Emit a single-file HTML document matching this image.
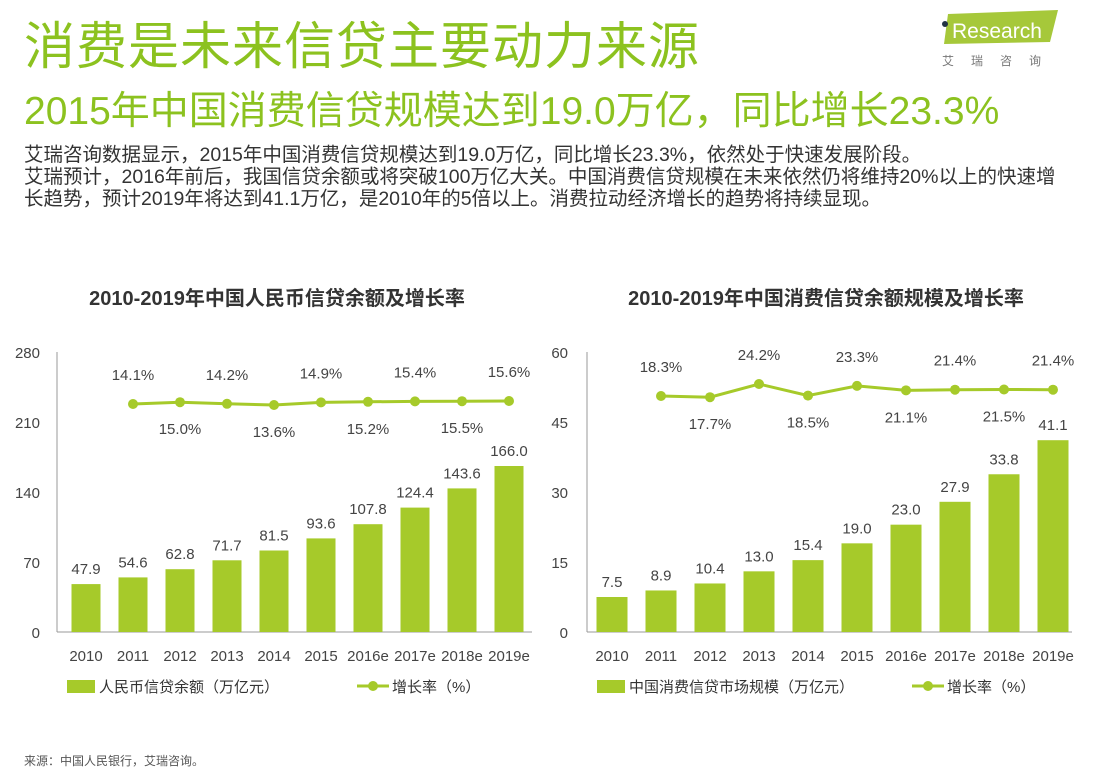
<!DOCTYPE html>
<html><head><meta charset="utf-8"><style>
body{margin:0;background:#fff;width:1103px;height:784px;overflow:hidden;font-family:"Liberation Sans","Noto Sans CJK SC",sans-serif;position:relative}
.a{position:absolute;white-space:nowrap}
</style></head><body>
<div class="a" style="left:24px;top:5px;font-size:51px;color:#8cc21f;letter-spacing:1px">消费是未来信贷主要动力来源</div>
<div class="a" style="left:24px;top:80px;font-size:39px;color:#8cc21f">2015年中国消费信贷规模达到19.0万亿，同比增长23.3%</div>
<div class="a" style="left:940px;top:8px;width:120px;height:60px">
<svg width="120" height="60"><polygon points="8,6 118,2 110,34 4,36" fill="#a6c83a"/><circle cx="5" cy="16" r="3" fill="#234"/><text x="12" y="30" font-size="21" fill="#fff" font-family="Liberation Sans">Research</text></svg>
<div class="a" style="left:2px;top:44px;font-size:12px;color:#777;letter-spacing:17px">艾瑞咨询</div></div>
<div class="a" style="left:24px;top:144px;font-size:19.5px;line-height:22px;color:#333">艾瑞咨询数据显示，2015年中国消费信贷规模达到19.0万亿，同比增长23.3%，依然处于快速发展阶段。<br>艾瑞预计，2016年前后，我国信贷余额或将突破100万亿大关。中国消费信贷规模在未来依然仍将维持20%以上的快速增<br>长趋势，预计2019年将达到41.1万亿，是2010年的5倍以上。消费拉动经济增长的趋势将持续显现。</div>
<div class="a" style="left:24px;top:752px;font-size:12px;color:#555">来源：中国人民银行，艾瑞咨询。</div>
<svg id="c" class="a" style="left:0;top:0" width="1103" height="784" font-family="Liberation Sans,Noto Sans CJK SC,sans-serif"></svg>
<script>
const years=["2010","2011","2012","2013","2014","2015","2016e","2017e","2018e","2019e"];
const creditVals=[47.9,54.6,62.8,71.7,81.5,93.6,107.8,124.4,143.6,166.0];
const creditGrowth=[14.1,15.0,14.2,13.6,14.9,15.2,15.4,15.5,15.6];
const consVals=[7.5,8.9,10.4,13.0,15.4,19.0,23.0,27.9,33.8,41.1];
const consGrowth=[18.3,17.7,24.2,18.5,23.3,21.1,21.4,21.5,21.4];
const leftTicks=[0,70,140,210,280];
const rightTicks=[0,15,30,45,60];
const NS="http://www.w3.org/2000/svg";
const svg=document.getElementById('c');
function el(t,a,txt){const e=document.createElementNS(NS,t);for(const k in a)e.setAttribute(k,a[k]);if(txt!==undefined)e.textContent=txt;svg.appendChild(e);return e;}
const G="#a6ca2a";
function chart(o){
 const base=632,top=352;
 const y=v=>base-(v/o.max)*(base-top);
 const x=i=>o.x0+i*o.step;
 const gy=v=>o.gy0-(v-o.gv0)*o.gk;
 let t=el('text',{x:o.titleX,y:305,'font-size':20,'font-weight':'bold','text-anchor':'middle',fill:'#333'},o.title);
 
 let ax=el('line',{x1:o.ax0,x2:o.ax1,y1:base,y2:base,stroke:'#999'});
 
 let ay=el('line',{x1:o.ax0,x2:o.ax0,y1:top,y2:base,stroke:'#999'});
 
 o.ticks.forEach(v=>{let e=el('text',{x:o.tickX,y:y(v)+6,'font-size':15,'text-anchor':'end',fill:'#444'},v);
  });
 o.vals.forEach((v,i)=>{
  let r=el('rect',{x:x(i)-o.bw/2,y:y(v),width:o.bw,height:base-y(v),fill:G});
  
  let l=el('text',{x:x(i),y:y(v)-10,'font-size':15,'text-anchor':'middle',fill:'#444'},v.toFixed(1));
  
  let xl=el('text',{x:x(i),y:661,'font-size':15,'text-anchor':'middle',fill:'#444'},years[i]);
  
 });
 const pts=o.growth.map((v,i)=>[x(i+1),gy(v)]);
 let p=el('polyline',{points:pts.map(p=>p.join(',')).join(' '),fill:'none',stroke:G,'stroke-width':3});
 
 pts.forEach((pt,i)=>{
  let c=el('circle',{cx:pt[0],cy:pt[1],r:5,fill:G});
  
  let ly=i%2==0?pt[1]-24:pt[1]+32;
  let l=el('text',{x:pt[0],y:ly,'font-size':15,'text-anchor':'middle',fill:'#444'},o.growth[i].toFixed(1)+'%');
  
 });
 let lr=el('rect',{x:o.lx,y:680,width:28,height:13,fill:G});
 
 let lt=el('text',{x:o.lx+32,y:692,'font-size':15,fill:'#333'},o.legend);
 
 let ll=el('line',{x1:o.lx2,x2:o.lx2+32,y1:686,y2:686,stroke:G,'stroke-width':3});
 
 el('circle',{cx:o.lx2+16,cy:686,r:5,fill:G});
 let lt2=el('text',{x:o.lx2+35,y:692,'font-size':15,fill:'#333'},'增长率（%）');
 
}
chart({id:'rmb-credit',title:'2010-2019年中国人民币信贷余额及增长率',titleX:277,max:280,ticks:leftTicks,tickX:40,
 ax0:57,ax1:532,x0:86,step:47,bw:29,vals:creditVals,growth:creditGrowth,gy0:404,gv0:14.1,gk:2,
 lx:67,lx2:357,legend:'人民币信贷余额（万亿元）'});
chart({id:'consumer-credit',title:'2010-2019年中国消费信贷余额规模及增长率',titleX:826,max:60,ticks:rightTicks,tickX:568,
 ax0:587,ax1:1072,x0:612,step:49,bw:31,vals:consVals,growth:consGrowth,gy0:396,gv0:18.3,gk:2.03,
 lx:597,lx2:912,legend:'中国消费信贷市场规模（万亿元）'});
</script>
</body></html>
